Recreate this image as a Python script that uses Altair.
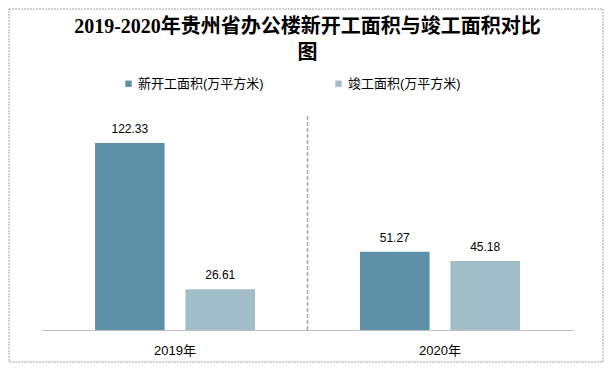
import altair as alt
import pandas as pd

years = ["2019年", "2020年"]
series = ["新开工面积(万平方米)", "竣工面积(万平方米)"]
new_start = [122.33, 51.27]
completed = [26.61, 45.18]
colors = ["#5d8fa6", "#a0bdc9"]
title_lines = ["2019-2020年贵州省办公楼新开工面积与竣工面积对比", "图"]

rows = []
for i, y in enumerate(years):
    rows.append({"year": y, "series": series[0], "value": new_start[i]})
    rows.append({"year": y, "series": series[1], "value": completed[i]})
df = pd.DataFrame(rows)

W, H = 531, 214

x_enc = alt.X("year:N", sort=years,
              scale=alt.Scale(paddingInner=0.396, paddingOuter=0.2),
              axis=alt.Axis(title=None, labelAngle=0, ticks=False, domainColor="#bfbfbf",
                            domainWidth=1, labelFontSize=13, labelColor="#000000",
                            labelFont="Liberation Sans, Noto Sans CJK SC", labelPadding=14,
                            grid=False))
xo_enc = alt.XOffset("series:N", sort=series,
                     scale=alt.Scale(paddingInner=0.23, paddingOuter=0))
y_enc = alt.Y("value:Q", scale=alt.Scale(domain=[0, 140]), axis=None)

bars = alt.Chart(df).mark_bar().encode(
    x=x_enc, xOffset=xo_enc, y=y_enc,
    color=alt.Color("series:N", sort=series,
                    scale=alt.Scale(domain=series, range=colors),
                    legend=alt.Legend(title=None, orient="none", direction="horizontal",
                                      legendX=80, legendY=-39, symbolType="square",
                                      symbolSize=40, symbolStrokeWidth=0,
                                      labelFontSize=13, labelColor="#000000",
                                      labelFont="Liberation Sans, Noto Sans CJK SC",
                                      columnPadding=68, symbolOffset=0, labelOffset=3))
)

labels = alt.Chart(df).mark_text(baseline="bottom", dy=-7, fontSize=12,
                                 font="Liberation Sans, Noto Sans CJK SC",
                                 color="#000000").encode(
    x=x_enc, xOffset=xo_enc, y=y_enc, text=alt.Text("value:Q", format=".2f")
)

one = pd.DataFrame({"a": [0]})
divider = alt.Chart(one).mark_rule(color="#a6a6a6", strokeDash=[4, 2], strokeWidth=1.5).encode(
    x=alt.value(W / 2), y=alt.value(0), y2=alt.value(H)
)

border = alt.Chart(one).mark_rect(fill=None, stroke="#a0a0a0", strokeDash=[2, 1],
                                  strokeWidth=1).encode(
    x=alt.value(-33), x2=alt.value(561), y=alt.value(-107), y2=alt.value(246)
)

t1 = alt.Chart(one).mark_text(text=title_lines[0], fontSize=20, fontWeight="bold",
                              font="Liberation Serif, Noto Sans CJK SC", color="#000000",
                              baseline="middle").encode(
    x=alt.value(W / 2), y=alt.value(-89)
)
t2 = alt.Chart(one).mark_text(text=title_lines[1], fontSize=20, fontWeight="bold",
                              font="Liberation Serif, Noto Sans CJK SC", color="#000000",
                              baseline="middle").encode(
    x=alt.value(W / 2), y=alt.value(-63)
)

chart = alt.layer(border, divider, bars, labels, t1, t2).properties(
    width=W, height=H,
    autosize=alt.AutoSizeParams(type="none"),
    padding={"left": 34, "top": 108, "right": 31, "bottom": 33},
).configure(background="white").configure_view(stroke=None, strokeWidth=0)

chart.save("out.html", embed_options={"renderer": "svg", "actions": False})
